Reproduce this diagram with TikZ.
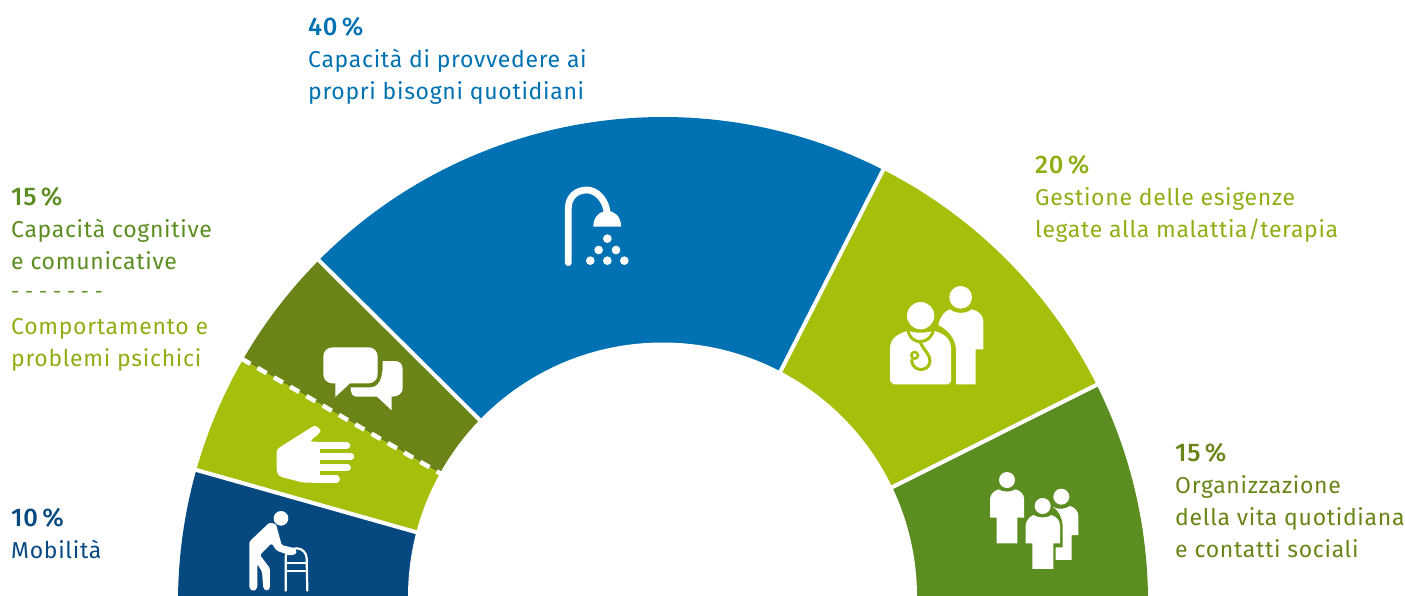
\documentclass[tikz,border=0pt]{standalone}
\usepackage{fontspec}
\setmainfont{Fira Sans}[LetterSpace=3,BoldFont={Fira Sans Medium}]
\definecolor{cblue}{HTML}{0071B2}
\definecolor{cnavy}{HTML}{064981}
\definecolor{clime}{HTML}{A5BF0A}
\definecolor{cgreen}{HTML}{5B8D20}
\definecolor{colive}{HTML}{6A8418}
\definecolor{tlime}{HTML}{8FAE14}
\tikzset{
  lbl/.style={anchor=north west,inner sep=0pt,align=left,font=\fontsize{23}{32}\selectfont},
  sep/.style={draw=white,line width=4pt},
  ico/.style={fill=white,draw=none},
  zoomed/.style={x=0.3333pt,y=-0.3333pt},
}
\newcommand{\sector}[3]{\fill[#3] (0,0) -- (#1:485) arc[start angle=#1,end angle=#2,radius=485] -- cycle;}
\newcommand{\pct}[1]{{\fontsize{25.5}{32}\selectfont\bfseries #1\,\%}}
\begin{document}
\begin{tikzpicture}[x=1pt,y=-1pt]
\useasboundingbox (0,0) rectangle (1405,595);
\clip (0,0) rectangle (1405,595);
\begin{scope}[shift={(663,602)},y=1pt]
  \sector{-2}{26.6}{cgreen}
  \sector{26.6}{63}{clime}
  \sector{63}{135.2}{cblue}
  \sector{135.2}{150}{colive}
  \sector{150}{164.2}{clime}
  \sector{164.2}{182}{cnavy}
  \foreach \a/\n in {26.6/a,63/b,135.2/c,150/d,164.2/e}{
    \coordinate (i\n) at (\a:200);
    \coordinate (o\n) at (\a:487);
  }
  \draw[sep] (ia) -- (oa);
  \draw[sep] (ib) -- (ob);
  \draw[sep] (ic) -- (oc);
  \draw[sep,line width=4.5pt,dash pattern=on 10.5pt off 8.3pt] (od) -- (id);
  \draw[sep] (ie) -- (oe);
  \fill[white] (-0.5,5) circle[radius=254.5];
\end{scope}

% shower
\begin{scope}[shift={(540,170)},zoomed]
  \draw[white,line width=6.8pt,line cap=round] (85,278) -- (85,115) .. controls (85,80) and (110,60) .. (140,60) .. controls (170,60) and (200,90) .. (202,135);
  \fill[ico] (160,170) .. controls (160,140) and (180,123) .. (202,123) .. controls (225,123) and (243,140) .. (243,170) -- cycle;
  \foreach \p in {(202,206),(176,240),(228,240),(151,272),(202,272),(253,272)}
    \fill[ico] \p circle[radius=13];
\end{scope}

% doctor and patient
\begin{scope}[shift={(870,270)},zoomed]
  \fill[ico] (272,82) circle[radius=34];
  \fill[ico] (205,165) .. controls (210,140) and (225,122) .. (240,118) .. controls (255,132) and (290,132) .. (305,118) .. controls (325,122) and (340,135) .. (340,155) -- (340,238) -- (317,238) -- (317,343) -- (258,343) -- (258,235) .. controls (255,205) and (235,180) .. (205,165) -- cycle;
  \fill[ico] (152,137) circle[radius=41];
  \fill[ico] (115,182) .. controls (130,190) and (175,190) .. (190,182) .. controls (220,190) and (243,205) .. (243,235) -- (243,335) -- (235,343) -- (70,343) -- (60,333) -- (60,235) .. controls (60,205) and (85,190) .. (115,182) -- cycle;
  \draw[clime,line width=3pt] (113,178) .. controls (118,205) and (135,215) .. (150,215) .. controls (170,215) and (188,200) .. (190,178);
  \draw[clime,line width=3pt] (150,215) .. controls (160,240) and (182,255) .. (180,275) .. controls (178,295) and (160,300) .. (148,298) .. controls (130,295) and (125,280) .. (125,268);
  \draw[clime,line width=2.5pt] (134,256) circle[radius=10];
\end{scope}

% people
\begin{scope}[shift={(970,460)},zoomed]
  \fill[ico] (111,60) circle[radius=24];
  \fill[ico] (60,115) .. controls (62,100) and (75,92) .. (85,88) .. controls (100,97) and (122,97) .. (137,88) .. controls (150,92) and (162,102) .. (162,115) -- (162,173) -- (142,173) -- (142,250) -- (80,250) -- (80,173) -- (60,173) -- cycle;
  \fill[ico] (274,110) circle[radius=24];
  \fill[ico] (248,140) .. controls (262,150) and (285,148) .. (300,138) .. controls (315,142) and (325,155) .. (325,168) -- (325,225) -- (305,225) -- (305,300) -- (257,300) -- (257,262) -- (278,262) -- (278,195) .. controls (275,170) and (265,150) .. (248,140) -- cycle;
  \fill[ico] (218,138) circle[radius=24];
  \fill[ico] (167,195) .. controls (170,178) and (180,170) .. (190,165) .. controls (205,175) and (232,175) .. (245,165) .. controls (258,170) and (270,180) .. (270,197) -- (270,250) -- (250,250) -- (250,327) -- (187,327) -- (187,250) -- (167,250) -- cycle;
\end{scope}

% chat bubbles
\begin{scope}[shift={(230,330)},zoomed]
  \fill[ico,rounded corners=9pt] (280,52) -- (443,52) -- (443,160) -- (280,160) -- cycle;
  \fill[ico] (316,155) -- (360,160) -- (316,201) -- cycle;
  \fill[ico] (458,93) -- (495,93) .. controls (510,93) and (518,103) .. (518,118) -- (518,175) .. controls (518,190) and (505,200) .. (485,200) -- (485,241) -- (441,200) -- (380,200) .. controls (368,200) and (362,190) .. (362,172) -- (420,172) .. controls (445,172) and (460,150) .. (458,93) -- cycle;
\end{scope}

% hand
\begin{scope}[shift={(230,330)},zoomed]
  \fill[ico,rounded corners=3pt] (140,358) -- (244,292) .. controls (258,285) and (275,300) .. (266,312) -- (238,335) -- (270,335) -- (270,458) -- (220,458) -- (150,440) -- (140,428) -- cycle;
  \foreach \ya/\xe in {347/350,380/362,413/352,447/319}
    \draw[white,line width=7.2pt,line cap=round] (250,\ya) -- (\xe,\ya);
\end{scope}

% person with walker
\begin{scope}[shift={(170,460)},zoomed]
  \fill[ico] (333,175) circle[radius=22];
  \fill[ico,rounded corners=1.5pt] (238,245) -- (298,188) -- (318,192) -- (335,255) -- (375,265) -- (381,280) -- (362,287) -- (320,272) -- (305,250) -- (270,285) -- (300,325) -- (300,385) -- (290,393) -- (280,385) -- (276,335) -- (262,312) -- (262,385) -- (250,394) -- (238,385) -- cycle;
  \draw[white,line width=2.2pt,line cap=round] (347,392) -- (347,290) .. controls (347,275) and (365,265) .. (380,265) .. controls (398,265) and (410,280) .. (410,295) -- (412,392);
  \draw[white,line width=2pt] (347,309) -- (410,309);
  \draw[white,line width=2pt] (347,332) -- (411,332);
\end{scope}

% labels
\node[lbl,text=cblue] (l40) at (308,17) {\pct{40}\\Capacità di provvedere ai\\propri bisogni quotidiani};
\node[lbl,text=tlime] (l20) at (1035,155.5) {\pct{20}\\Gestione delle esigenze\\legate alla malattia/terapia};
\node[lbl,text=colive] (l15r) at (1175,443) {\pct{15}\\Organizzazione\\della vita quotidiana\\e contatti sociali};
\node[lbl,text=cgreen] (l15a) at (11,187) {\pct{15}\\Capacità cognitive\\e comunicative};
\node[lbl,text=cgreen,font=\fontsize{20}{32}\selectfont] (ldash) at (11,291) {- - - - - - -};
\node[lbl,text=tlime] (l15b) at (11,318) {Comportamento e\\problemi psichici};
\node[lbl,text=cnavy] (l10) at (11,508) {\pct{10}\\Mobilità};
\end{tikzpicture}
\end{document}
